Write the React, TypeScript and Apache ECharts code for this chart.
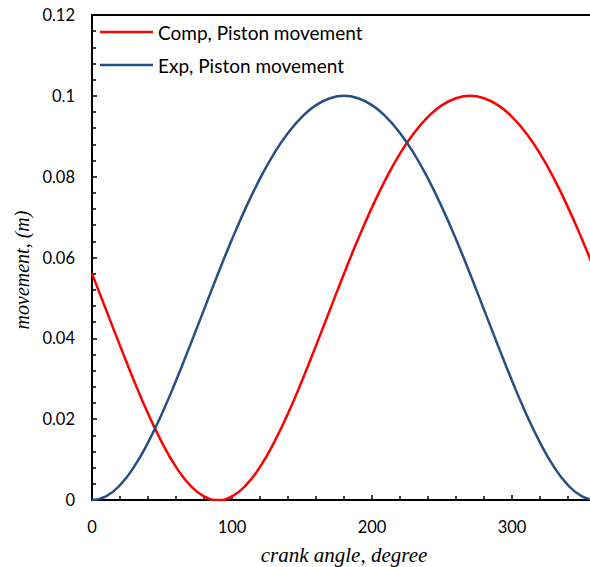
import React, { useEffect, useRef } from "react";
import * as echarts from "echarts";

const crankAngles = [
  0, 10, 20, 30, 40, 50, 60, 70, 80, 90, 100, 110, 120, 130, 140, 150, 160, 170, 180,
  190, 200, 210, 220, 230, 240, 250, 260, 270, 280, 290, 300, 310, 320, 330, 340, 350, 360,
];

const compMovement = [
  0.056, 0.0471, 0.0382, 0.0295, 0.0214, 0.0142, 0.0082, 0.0037, 0.0009, 0.0, 0.0009, 0.0037,
  0.0082, 0.0142, 0.0214, 0.0295, 0.0382, 0.0471, 0.056, 0.0645, 0.0724, 0.0795, 0.0857,
  0.0908, 0.0948, 0.0977, 0.0994, 0.1, 0.0994, 0.0977, 0.0948, 0.0908, 0.0857, 0.0795,
  0.0724, 0.0645, 0.056,
];

const expMovement = [
  0.0, 0.0009, 0.0037, 0.0082, 0.0142, 0.0214, 0.0295, 0.0382, 0.0471, 0.056, 0.0645, 0.0724,
  0.0795, 0.0857, 0.0908, 0.0948, 0.0977, 0.0994, 0.1, 0.0994, 0.0977, 0.0948, 0.0908,
  0.0857, 0.0795, 0.0724, 0.0645, 0.056, 0.0471, 0.0382, 0.0295, 0.0214, 0.0142, 0.0082,
  0.0037, 0.0009, 0.0,
];

const seriesNames = ["Comp, Piston movement", "Exp, Piston movement"];
const xAxisTitle = "crank angle, degree";
const yAxisTitle = "movement, (m)";

export default function App() {
  const ref = useRef<HTMLDivElement>(null);

  useEffect(() => {
    document.body.style.margin = "0";
    if (!ref.current) return;
    const chart = echarts.init(ref.current, undefined, { renderer: "svg" });
    const sans = "Lato, 'Open Sans', sans-serif";
    const serif = "'Liberation Serif', 'DejaVu Serif', serif";
    chart.setOption({
      animation: false,
      backgroundColor: "#ffffff",
      grid: {
        left: 92,
        top: 15,
        right: -6,
        bottom: 67,
        containLabel: false,
        outerBoundsMode: "none",
        show: true,
        borderColor: "#000",
        borderWidth: 2,
        backgroundColor: "transparent",
      },
      graphic: [
        {
          type: "text",
          x: 22,
          y: 270,
          rotation: Math.PI / 2,
          style: {
            text: yAxisTitle,
            fontFamily: serif,
            fontStyle: "italic",
            fontSize: 20,
            fill: "#000",
            textAlign: "center",
            textVerticalAlign: "middle",
          },
        },
      ],
      legend: {
        left: 100,
        top: 22,
        padding: 0,
        orient: "vertical",
        icon: "rect",
        itemWidth: 53,
        itemHeight: 2.5,
        itemGap: 13,
        textStyle: {
          fontFamily: sans,
          fontSize: 19,
          color: "#000",
          lineHeight: 20,
        },
        data: seriesNames,
      },
      xAxis: {
        type: "value",
        min: 0,
        max: 360,
        interval: 100,
        name: xAxisTitle,
        nameLocation: "middle",
        nameGap: 44,
        nameTextStyle: {
          fontFamily: serif,
          fontStyle: "italic",
          fontSize: 21,
          color: "#000",
        },
        axisLine: { show: true, lineStyle: { color: "#000", width: 2 } },
        axisTick: { show: true, inside: true, length: 5, lineStyle: { color: "#000", width: 1.5 } },
        minorTick: { show: true, splitNumber: 5, length: 4, lineStyle: { color: "#000", width: 1.5 } },
        splitLine: { show: false },
        axisLabel: {
          showMaxLabel: false,
          margin: 18,
          fontFamily: sans,
          fontSize: 16.5,
          color: "#000",
        },
      },
      yAxis: {
        type: "value",
        min: 0,
        max: 0.12,
        interval: 0.02,
        axisLine: { show: true, lineStyle: { color: "#000", width: 2 } },
        axisTick: { show: true, inside: true, length: 5, lineStyle: { color: "#000", width: 1.5 } },
        minorTick: { show: true, splitNumber: 5, length: 4, lineStyle: { color: "#000", width: 1.5 } },
        splitLine: { show: false },
        axisLabel: {
          margin: 17,
          fontFamily: sans,
          fontSize: 16.5,
          color: "#000",
        },
      },
      series: [
        {
          name: seriesNames[0],
          type: "line",
          smooth: true,
          showSymbol: false,
          symbol: "none",
          color: "#FF0000",
          lineStyle: { color: "#FF0000", width: 2.5 },
          data: crankAngles.map((a, i) => [a, compMovement[i]]),
        },
        {
          name: seriesNames[1],
          type: "line",
          smooth: true,
          showSymbol: false,
          symbol: "none",
          color: "#254F85",
          lineStyle: { color: "#254F85", width: 2.5 },
          data: crankAngles.map((a, i) => [a, expMovement[i]]),
        },
      ],
    });
    return () => chart.dispose();
  }, []);

  return <div ref={ref} style={{ width: 590, height: 567 }} />;
}
